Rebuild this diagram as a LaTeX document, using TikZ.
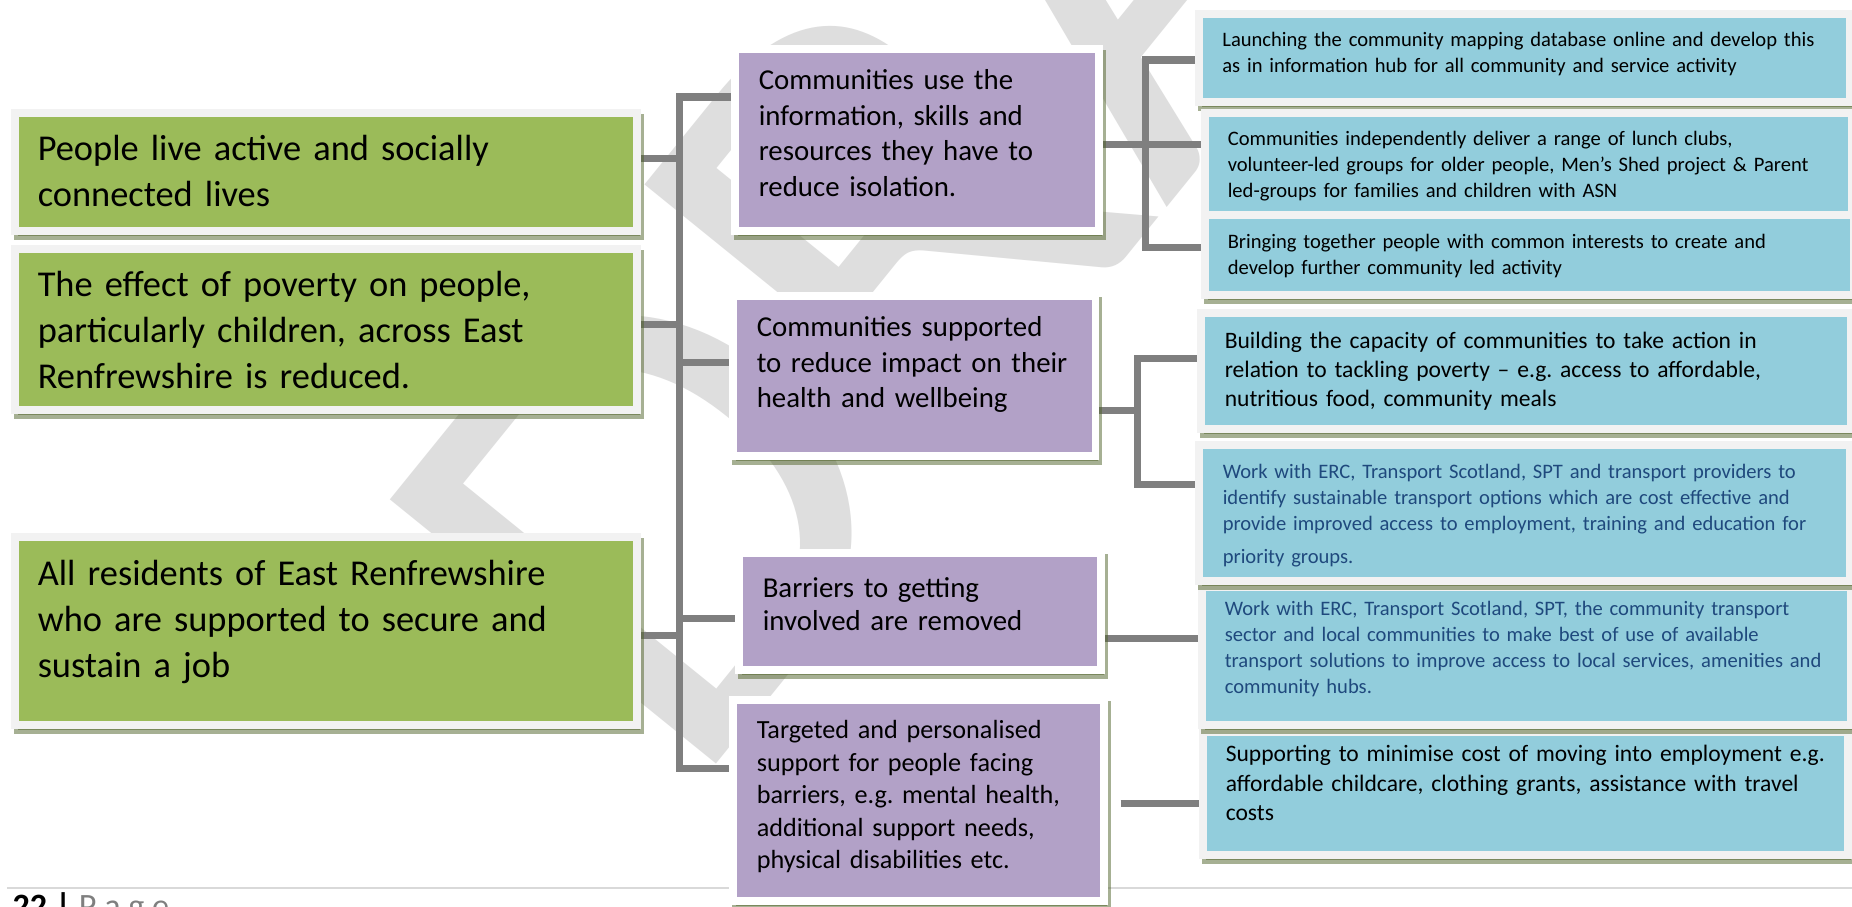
\documentclass[tikz,border=0pt]{standalone}
\usepackage{fontspec}
\setmainfont{Carlito}
\usetikzlibrary{shadows}
\pgfdeclarelayer{background}
\pgfsetlayers{background,main}
\frenchspacing
\definecolor{goalgreen}{HTML}{9BBB59}
\definecolor{outcomepurple}{HTML}{B2A1C7}
\definecolor{actionblue}{HTML}{92CDDC}
\definecolor{framegray}{HTML}{F2F2F2}
\definecolor{shadowolive}{HTML}{4F6228}
\definecolor{linkgray}{HTML}{7F7F7F}
\definecolor{textblue}{HTML}{1F497D}
\definecolor{markgray}{HTML}{DEDEDE}
\definecolor{rulegray}{HTML}{D9D9D9}
\definecolor{pagegray}{HTML}{7F7F7F}
\tikzset{
  box/.style={anchor=north west, align=left, inner ysep=0pt, draw=framegray, line width=0.075cm,
    drop shadow={shadow xshift=0.03cm, shadow yshift=-0.05cm, fill=shadowolive, draw=shadowolive, line width=0.075cm, opacity=0.5}},
  goal/.style={box, fill=goalgreen, inner xsep=0.23cm, text width=5.76cm, font=\fontsize{10.35}{13.1}\selectfont},
  outcome/.style={box, fill=outcomepurple, draw=white, inner xsep=0.24cm, font=\fontsize{8.2}{10.1}\selectfont},
  action/.style={box, fill=actionblue, inner xsep=0.23cm, font=\fontsize{5.85}{7.3}\selectfont},
  link/.style={draw=linkgray, line width=0.07cm},
  dims/.style 2 args={text height=#1, text depth=#2},
}
\begin{document}
\begin{tikzpicture}[x=0.01cm, y=-0.01cm]
\useasboundingbox (0,0) rectangle (1852,906);
\node[goal, dims={0.48cm}{0.70cm}] (G1) at (11,109) {People live active and socially\\connected lives};
\node[goal, dims={0.48cm}{1.13cm}] (G2) at (11,245) {The effect of poverty on people,\\particularly children, across East\\Renfrewshire is reduced.};
\node[goal, dims={0.49cm}{1.39cm}] (G3) at (11,533) {All residents of East Renfrewshire\\who are supported to secure and\\sustain a job};
\node[outcome, text width=3.16cm, dims={0.41cm}{1.41cm}] (P1) at (731,45) {Communities use the\\information, skills and\\resources they have to\\reduce isolation.};
\node[outcome, text width=3.145cm, dims={0.41cm}{1.19cm}] (P2) at (729,292) {Communities supported\\to reduce impact on their\\health and wellbeing};
\node[outcome, text width=3.14cm, dims={0.45cm}{0.72cm}, font=\fontsize{8.2}{9.4}\selectfont] (P3) at (735,549) {Barriers to getting\\involved are removed};
\node[outcome, text width=3.23cm, dims={0.39cm}{1.62cm}, font=\fontsize{7.45}{9.25}\selectfont] (P4) at (729,696) {Targeted and personalised\\support for people facing\\barriers, e.g. mental health,\\additional support needs,\\physical disabilities etc.};
\node[action, text width=6.03cm, inner xsep=0.236cm, dims={0.33cm}{0.55cm}] (B1) at (1195,10) {Launching the community mapping database online and develop this\\as in information hub for all community and service activity};
\node[action, text width=6.01cm, dims={0.33cm}{0.69cm}] (B2) at (1201,109) {Communities independently deliver a range of lunch clubs,\\volunteer-led groups for older people, Men’s Shed project \& Parent\\led-groups for families and children with ASN};
\node[action, text width=6.03cm, dims={0.34cm}{0.46cm}] (B3) at (1201,211) {Bringing together people with common interests to create and\\develop further community led activity};
\node[action, text width=6.02cm, inner xsep=0.24cm, dims={0.36cm}{0.80cm}, font=\fontsize{6.7}{8.25}\selectfont] (B4) at (1197,309) {Building the capacity of communities to take action in\\relation to tackling poverty -- e.g. access to affordable,\\nutritious food, community meals};
\node[action, text width=5.99cm, dims={0.30cm}{0.93cm}, font=\fontsize{6.7}{8.4}\selectfont] (B7) at (1199,728) {Supporting to minimise cost of moving into employment e.g.\\affordable childcare, clothing grants, assistance with travel\\costs};
\node[action, text width=6.03cm, dims={0.29cm}{1.09cm}, text=textblue, font=\fontsize{5.85}{7.4}\selectfont] (B6) at (1198,583) {Work with ERC, Transport Scotland, SPT, the community transport\\sector and local communities to make best of use of available\\transport solutions to improve access to local services, amenities and\\community hubs.};
\node[action, text width=6.03cm, inner xsep=0.24cm, dims={0.34cm}{1.02cm}, text=textblue, font=\fontsize{5.85}{7.4}\selectfont] (B5) at (1195,441) {Work with ERC, Transport Scotland, SPT and transport providers to\\identify sustainable transport options which are cost effective and\\provide improved access to employment, training and education for\\[2pt]priority groups.};
\begin{pgfonlayer}{background}
\fill[white] (0,0) rectangle (1852,906);
\node[font=\fontsize{186}{186}\selectfont, text=markgray, rotate=51, anchor=base west, inner sep=0pt] (mark) at (688,799) {DRAFT};
\draw[rulegray, line width=0.02cm] (7,888) coordinate (ruleL) -- (1852,888) coordinate (ruleR);
\node[anchor=base west, inner sep=0pt, font=\fontsize{9.7}{11}\selectfont] (pageno) at (12,917) {\textbf{22 |} \textcolor{pagegray}{P a g e}};
\coordinate (trunktop) at (679,97);
\coordinate (trunkbot) at (679,768);
\draw[link] (P1.west |- trunktop) -- (trunktop) -- (trunkbot) -- (P4.west |- trunkbot);
\draw[link] ([yshift=.13cm]G1.east) coordinate (g1) -- (g1 -| trunktop);
\draw[link] ([yshift=.045cm]G2.east) coordinate (g2) -- (g2 -| trunktop);
\draw[link] ([yshift=-.05cm]G3.east) coordinate (g3) -- (g3 -| trunktop);
\draw[link] ([yshift=.13cm]P2.west) coordinate (p2w) -- (p2w -| trunktop);
\draw[link] ([yshift=-.075cm]P3.west) coordinate (p3w) -- (p3w -| trunktop);
\coordinate (fork1top) at (1145,60);
\coordinate (fork1bot) at (1145,247);
\draw[link] (B1.west |- fork1top) -- (fork1top) -- (fork1bot) -- (B3.west |- fork1bot);
\draw[link] ([yshift=-.05cm]P1.east) coordinate (p1e) -- (p1e -| B2.west);
\coordinate (fork2top) at (1137,358);
\coordinate (fork2bot) at (1137,484);
\draw[link] (B4.west |- fork2top) -- (fork2top) -- (fork2bot) -- (B5.west |- fork2bot);
\draw[link] ([yshift=-.35cm]P2.east) coordinate (p2e) -- (p2e -| fork2top);
\draw[link] ([yshift=-.275cm]P3.east) coordinate (p3e) -- (p3e -| B6.west);
\draw[link, shorten <=.13cm] ([yshift=-.035cm]P4.east) coordinate (p4e) -- (p4e -| B7.west);
\end{pgfonlayer}
\end{tikzpicture}
\end{document}
